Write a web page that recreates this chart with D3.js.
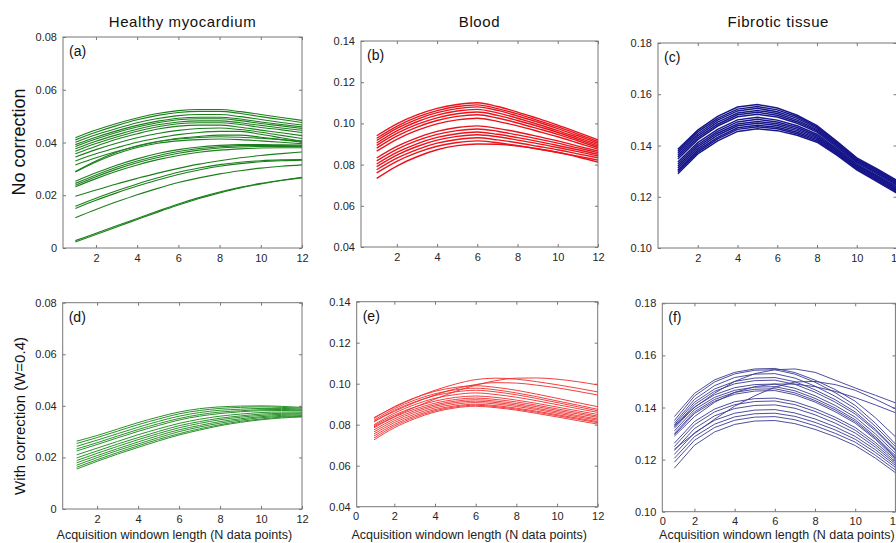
<!DOCTYPE html>
<html>
<head>
<meta charset="utf-8">
<script src="https://cdn.jsdelivr.net/npm/d3@7"></script>
<style>
  body { margin: 0; background: #fff; }
  svg { display: block; font-family: "Liberation Sans", Arial, sans-serif; }
  .tick text { fill: #262626; font-size: 11px; }
  .tick line { stroke: #777; }
</style>
</head>
<body>
<svg id="chart" width="896" height="543"></svg>
<script>
// window lengths (x values shared by every curve)
const windowLengths = [1, 2, 3, 4, 5, 6, 7, 8, 9, 10, 11, 12];

const xTicksEven = [2, 4, 6, 8, 10, 12];
const xTicksZero = [0, 2, 4, 6, 8, 10, 12];
const yTicksHealthy = [0, 0.02, 0.04, 0.06, 0.08];
const yTicksBlood = [0.04, 0.06, 0.08, 0.10, 0.12, 0.14];
const yTicksFibrotic = [0.10, 0.12, 0.14, 0.16, 0.18];

const tissueTitles = ["Healthy myocardium", "Blood", "Fibrotic tissue"];
const rowTitles = ["No correction", "With correction (W=0.4)"];
const panelLetters = ["(a)", "(b)", "(c)", "(d)", "(e)", "(f)"];
const xAxisTitle = "Acquisition windown length (N data points)";

// (a) healthy myocardium, no correction
const healthyNoCorr = [
  [.0418,.0447,.0472,.0493,.0510,.0521,.0525,.0525,.0517,.0506,.0495,.0484],
  [.0410,.0439,.0464,.0486,.0503,.0514,.0518,.0518,.0510,.0498,.0487,.0476],
  [.0401,.0429,.0453,.0475,.0491,.0502,.0506,.0506,.0498,.0487,.0476,.0466],
  [.0392,.0420,.0444,.0465,.0481,.0492,.0496,.0496,.0489,.0478,.0468,.0459],
  [.0385,.0413,.0438,.0459,.0475,.0486,.0490,.0490,.0483,.0472,.0463,.0453],
  [.0376,.0405,.0429,.0450,.0467,.0478,.0482,.0482,.0475,.0465,.0455,.0446],
  [.0367,.0396,.0421,.0443,.0460,.0471,.0475,.0475,.0468,.0457,.0448,.0438],
  [.0357,.0386,.0412,.0433,.0451,.0462,.0466,.0466,.0458,.0447,.0437,.0426],
  [.0345,.0373,.0397,.0418,.0434,.0446,.0453,.0455,.0449,.0439,.0427,.0415],
  [.0330,.0357,.0380,.0401,.0417,.0430,.0438,.0442,.0442,.0431,.0418,.0405],
  [.0315,.0342,.0366,.0386,.0403,.0416,.0423,.0428,.0428,.0420,.0411,.0401],
  [.0290,.0330,.0363,.0388,.0404,.0413,.0419,.0422,.0420,.0416,.0411,.0405],
  [.0288,.0326,.0357,.0381,.0397,.0406,.0411,.0413,.0411,.0406,.0401,.0395],
  [.0253,.0285,.0314,.0338,.0358,.0373,.0383,.0389,.0392,.0392,.0391,.0390],
  [.0245,.0277,.0306,.0330,.0350,.0366,.0377,.0384,.0388,.0389,.0388,.0387],
  [.0238,.0270,.0299,.0323,.0343,.0359,.0371,.0379,.0383,.0385,.0385,.0385],
  [.0232,.0263,.0291,.0315,.0335,.0351,.0363,.0371,.0376,.0379,.0380,.0380],
  [.0196,.0220,.0243,.0264,.0284,.0302,.0318,.0331,.0342,.0351,.0358,.0364],
  [.0158,.0189,.0217,.0243,.0266,.0287,.0303,.0316,.0325,.0331,.0334,.0335],
  [.0150,.0181,.0209,.0235,.0258,.0279,.0296,.0310,.0320,.0327,.0331,.0333],
  [.0115,.0146,.0175,.0202,.0226,.0248,.0266,.0281,.0293,.0303,.0310,.0315],
  [.0028,.0056,.0084,.0112,.0140,.0167,.0191,.0212,.0230,.0245,.0257,.0268],
  [.0023,.0051,.0080,.0108,.0136,.0163,.0188,.0209,.0228,.0243,.0256,.0266]
];

// (b) blood, no correction
const bloodNoCorr = [
  [.0940,.0998,.1041,.1073,.1092,.1100,.1082,.1055,.1024,.0992,.0956,.0920],
  [.0928,.0986,.1030,.1062,.1082,.1090,.1072,.1046,.1015,.0983,.0948,.0912],
  [.0917,.0976,.1020,.1052,.1072,.1080,.1063,.1036,.1007,.0975,.0940,.0905],
  [.0905,.0964,.1008,.1040,.1060,.1068,.1051,.1025,.0996,.0965,.0931,.0897],
  [.0893,.0951,.0995,.1027,.1047,.1055,.1039,.1014,.0986,.0956,.0923,.0890],
  [.0880,.0938,.0982,.1014,.1034,.1042,.1026,.1002,.0975,.0947,.0915,.0883],
  [.0865,.0923,.0966,.0998,.1017,.1025,.1010,.0988,.0962,.0935,.0905,.0875],
  [.0832,.0888,.0930,.0961,.0980,.0988,.0976,.0958,.0937,.0915,.0890,.0866],
  [.0818,.0874,.0916,.0947,.0965,.0973,.0962,.0944,.0925,.0904,.0881,.0858],
  [.0803,.0859,.0901,.0932,.0950,.0958,.0947,.0931,.0913,.0893,.0872,.0850],
  [.0790,.0846,.0888,.0919,.0937,.0945,.0935,.0919,.0902,.0883,.0863,.0842],
  [.0775,.0831,.0873,.0904,.0922,.0930,.0920,.0906,.0889,.0872,.0852,.0833],
  [.0760,.0816,.0858,.0889,.0907,.0915,.0906,.0892,.0876,.0859,.0841,.0822],
  [.0733,.0793,.0838,.0872,.0892,.0900,.0899,.0890,.0877,.0860,.0837,.0812]
];

// (c) fibrotic tissue, no correction
const fibroticNoCorr = [
  [.1385,.1460,.1514,.1550,.1560,.1546,.1518,.1478,.1416,.1352,.1310,.1265],
  [.1377,.1453,.1506,.1542,.1552,.1539,.1512,.1473,.1412,.1348,.1306,.1261],
  [.1370,.1445,.1499,.1535,.1545,.1532,.1506,.1468,.1407,.1344,.1302,.1257],
  [.1362,.1438,.1491,.1527,.1537,.1525,.1499,.1462,.1403,.1341,.1298,.1253],
  [.1355,.1430,.1483,.1520,.1530,.1518,.1493,.1457,.1399,.1337,.1294,.1249],
  [.1347,.1423,.1476,.1512,.1522,.1511,.1487,.1452,.1394,.1333,.1290,.1245],
  [.1335,.1411,.1463,.1500,.1510,.1499,.1477,.1444,.1387,.1327,.1284,.1239],
  [.1327,.1403,.1455,.1492,.1502,.1492,.1470,.1438,.1383,.1323,.1280,.1235],
  [.1319,.1396,.1448,.1484,.1494,.1485,.1464,.1433,.1379,.1320,.1276,.1231],
  [.1312,.1388,.1440,.1477,.1487,.1478,.1458,.1428,.1374,.1316,.1272,.1227],
  [.1304,.1381,.1432,.1469,.1479,.1471,.1452,.1423,.1370,.1312,.1268,.1223],
  [.1298,.1374,.1426,.1463,.1473,.1465,.1446,.1418,.1366,.1309,.1264,.1219],
  [.1290,.1367,.1418,.1455,.1465,.1458,.1440,.1413,.1362,.1305,.1260,.1215]
];

// (d) healthy myocardium, with correction
const healthyCorr = [
  [.0263,.0285,.0310,.0335,.0357,.0376,.0389,.0396,.0399,.0400,.0398,.0394],
  [.0254,.0277,.0302,.0327,.0349,.0369,.0382,.0390,.0394,.0396,.0394,.0391],
  [.0243,.0267,.0292,.0317,.0340,.0360,.0374,.0383,.0387,.0390,.0390,.0387],
  [.0233,.0257,.0283,.0308,.0331,.0351,.0366,.0376,.0381,.0385,.0386,.0384],
  [.0225,.0250,.0276,.0301,.0324,.0345,.0360,.0370,.0377,.0381,.0382,.0381],
  [.0210,.0236,.0262,.0288,.0311,.0332,.0348,.0360,.0368,.0374,.0376,.0376],
  [.0198,.0225,.0252,.0277,.0301,.0323,.0339,.0352,.0361,.0368,.0371,.0372],
  [.0188,.0216,.0243,.0269,.0293,.0315,.0332,.0346,.0356,.0363,.0367,.0369],
  [.0179,.0207,.0234,.0260,.0285,.0307,.0324,.0339,.0350,.0358,.0363,.0365],
  [.0170,.0199,.0227,.0252,.0277,.0300,.0318,.0333,.0345,.0354,.0359,.0362],
  [.0162,.0191,.0219,.0245,.0270,.0292,.0311,.0327,.0340,.0349,.0356,.0359],
  [.0155,.0185,.0213,.0239,.0264,.0287,.0306,.0323,.0336,.0346,.0353,.0357]
];

// (e) blood, with correction
const bloodCorr = [
  [.0835,.0885,.0930,.0968,.0998,.1020,.1027,.1022,.1010,.0995,.0978,.0960],
  [.0790,.0840,.0885,.0925,.0962,.0993,.1015,.1027,.1028,.1022,.1010,.0994],
  [.0815,.0865,.0908,.0945,.0975,.0996,.1005,.1003,.0993,.0980,.0963,.0945],
  [.0830,.0888,.0931,.0963,.0982,.0990,.0982,.0968,.0949,.0929,.0908,.0888],
  [.0822,.0878,.0920,.0951,.0970,.0978,.0970,.0955,.0937,.0916,.0896,.0875],
  [.0815,.0870,.0911,.0942,.0960,.0968,.0960,.0946,.0928,.0908,.0888,.0868],
  [.0800,.0856,.0898,.0929,.0947,.0955,.0947,.0934,.0917,.0898,.0879,.0860],
  [.0795,.0847,.0886,.0915,.0933,.0940,.0933,.0920,.0904,.0886,.0868,.0850],
  [.0785,.0837,.0876,.0905,.0923,.0930,.0923,.0911,.0895,.0877,.0860,.0842],
  [.0775,.0828,.0868,.0897,.0915,.0922,.0915,.0903,.0888,.0870,.0853,.0836],
  [.0765,.0819,.0860,.0890,.0908,.0915,.0908,.0896,.0880,.0863,.0845,.0828],
  [.0755,.0810,.0851,.0882,.0900,.0908,.0901,.0889,.0874,.0856,.0839,.0822],
  [.0745,.0801,.0843,.0874,.0892,.0900,.0893,.0881,.0866,.0849,.0832,.0815],
  [.0735,.0793,.0836,.0868,.0887,.0895,.0888,.0876,.0861,.0844,.0827,.0810],
  [.0726,.0785,.0829,.0862,.0882,.0890,.0883,.0871,.0855,.0838,.0820,.0803]
];

// (f) fibrotic tissue, with correction
const fibroticCorr = [
  [.1365,.1454,.1506,.1535,.1548,.1550,.1534,.1505,.1469,.1424,.1361,.1288],
  [.1350,.1444,.1498,.1529,.1543,.1545,.1528,.1497,.1457,.1408,.1340,.1260],
  [.1340,.1431,.1484,.1515,.1528,.1530,.1513,.1482,.1443,.1396,.1328,.1250],
  [.1333,.1420,.1471,.1500,.1513,.1515,.1499,.1468,.1430,.1383,.1317,.1240],
  [.1325,.1411,.1462,.1491,.1503,.1505,.1489,.1459,.1421,.1375,.1311,.1235],
  [.1320,.1402,.1449,.1476,.1488,.1490,.1474,.1445,.1408,.1363,.1299,.1225],
  [.1310,.1392,.1439,.1466,.1478,.1480,.1464,.1435,.1398,.1353,.1289,.1215],
  [.1300,.1383,.1431,.1458,.1470,.1472,.1456,.1427,.1391,.1346,.1283,.1210],
  [.1295,.1377,.1424,.1451,.1463,.1465,.1449,.1421,.1384,.1340,.1278,.1205],
  [.1330,.1400,.1455,.1500,.1530,.1545,.1548,.1535,.1505,.1475,.1447,.1418],
  [.1240,.1300,.1355,.1405,.1445,.1478,.1498,.1500,.1488,.1466,.1432,.1395],
  [.1290,.1365,.1420,.1458,.1480,.1490,.1490,.1480,.1462,.1438,.1410,.1380],
  [.1263,.1346,.1394,.1422,.1434,.1436,.1422,.1396,.1363,.1323,.1266,.1200],
  [.1250,.1334,.1383,.1411,.1423,.1425,.1411,.1385,.1353,.1313,.1257,.1192],
  [.1235,.1319,.1368,.1396,.1408,.1410,.1397,.1372,.1340,.1302,.1248,.1185],
  [.1220,.1303,.1351,.1378,.1390,.1392,.1379,.1356,.1326,.1289,.1238,.1178],
  [.1205,.1288,.1336,.1364,.1376,.1378,.1366,.1343,.1314,.1278,.1228,.1170],
  [.1190,.1274,.1323,.1351,.1363,.1365,.1353,.1330,.1301,.1267,.1217,.1160],
  [.1167,.1255,.1306,.1335,.1348,.1350,.1338,.1316,.1288,.1254,.1206,.1150]
];

// panel boxes in pixels: [left, right, top, bottom]
const panels = [
  { data: healthyNoCorr,  box: [63, 302, 37, 248],        xDom: [0.4, 12],  yDom: [0, 0.08],    yTicks: yTicksHealthy,  xTicks: xTicksEven, color: "#1b7f1b", lw: 1.1, smooth: true,  zeroShift: 0 },
  { data: bloodNoCorr,    box: [361, 598, 41, 247],       xDom: [0.22, 12], yDom: [0.04, 0.14], yTicks: yTicksBlood,    xTicks: xTicksEven, color: "#e8141c", lw: 1.4, smooth: true,  zeroShift: 0 },
  { data: fibroticNoCorr, box: [658, 896.5, 43, 248],     xDom: [0, 12],    yDom: [0.10, 0.18], yTicks: yTicksFibrotic, xTicks: xTicksEven, color: "#16168a", lw: 1.5, smooth: false, zeroShift: 0 },
  { data: healthyCorr,    box: [62.7, 302, 302.7, 509],   xDom: [0.32, 12], yDom: [0, 0.08],    yTicks: yTicksHealthy,  xTicks: xTicksEven, color: "#2a922a", lw: 1.0, smooth: true,  zeroShift: 0 },
  { data: bloodCorr,      box: [356.7, 597.7, 301.7, 506.7], xDom: [0.15, 12], yDom: [0.04, 0.14], yTicks: yTicksBlood, xTicks: xTicksZero, color: "#ee2a2a", lw: 0.9, smooth: true, zeroShift: 2 },
  { data: fibroticCorr,   box: [662.3, 895.4, 303.3, 511.7], xDom: [0.4, 12],  yDom: [0.10, 0.18], yTicks: yTicksFibrotic, xTicks: xTicksZero, color: "#3a3a94", lw: 0.9, smooth: false, zeroShift: 8 }
];

const svg = d3.select("#chart");
svg.append("rect").attr("width", 896).attr("height", 543).attr("fill", "#fff");

function yFmt(d) { return d === 0 ? "0" : d.toFixed(2); }

panels.forEach(function(p, i) {
  const [l, r, t, b] = p.box;
  const x = d3.scaleLinear().domain(p.xDom).range([l, r]);
  const y = d3.scaleLinear().domain(p.yDom).range([b, t]);
  const g = svg.append("g");

  // box
  g.append("rect")
    .attr("x", l).attr("y", t).attr("width", r - l).attr("height", b - t)
    .attr("fill", "none").attr("stroke", "#777").attr("stroke-width", 1);

  // inward ticks on all four sides
  const bottom = g.append("g").attr("transform", "translate(0," + b + ")")
    .call(d3.axisBottom(x).tickValues(p.xTicks).tickSizeInner(-3).tickSizeOuter(0).tickPadding(6));
  const outside = bottom.selectAll(".tick").filter(d => d < p.xDom[0]);
  outside.select("line").remove();
  outside.select("text").attr("dx", p.zeroShift);
  g.append("g").attr("transform", "translate(0," + t + ")")
    .call(d3.axisTop(x).tickValues(p.xTicks.filter(d => d >= p.xDom[0])).tickSizeInner(-3).tickSizeOuter(0).tickFormat(""));
  g.append("g").attr("transform", "translate(" + l + ",0)")
    .call(d3.axisLeft(y).tickValues(p.yTicks).tickSizeInner(-3).tickSizeOuter(0).tickPadding(6).tickFormat(yFmt));
  g.append("g").attr("transform", "translate(" + r + ",0)")
    .call(d3.axisRight(y).tickValues(p.yTicks).tickSizeInner(-3).tickSizeOuter(0).tickFormat(""));
  g.selectAll(".domain").remove();

  // curves
  const line = d3.line()
    .x((d, k) => x(windowLengths[k]))
    .y(d => y(d))
    .curve(p.smooth ? d3.curveMonotoneX : d3.curveLinear);

  g.append("g").selectAll("path")
    .data(p.data).enter()
    .append("path")
    .attr("d", line)
    .attr("fill", "none")
    .attr("stroke", p.color)
    .attr("stroke-width", p.lw);

  // panel letter
  g.append("text")
    .attr("x", l + 6).attr("y", t + 19)
    .attr("font-size", 14).attr("fill", "#111")
    .text(panelLetters[i]);

  // column titles over the top row, axis title under the bottom row
  if (i < 3) {
    g.append("text")
      .attr("x", (l + r) / 2 + (i === 2 ? 1 : 0)).attr("y", 27)
      .attr("text-anchor", "middle").attr("font-size", 15)
      .attr("letter-spacing", 0.6).attr("fill", "#111")
      .text(tissueTitles[i]);
  } else {
    g.append("text")
      .attr("x", (l + r) / 2 - 8 + (i === 5 ? 6 : 0)).attr("y", 539)
      .attr("text-anchor", "middle").attr("font-size", 12.5).attr("fill", "#222")
      .text(xAxisTitle);
  }
});

// row labels
svg.append("text")
  .attr("transform", "translate(25,142) rotate(-90)")
  .attr("text-anchor", "middle").attr("font-size", 18).attr("fill", "#111")
  .text(rowTitles[0]);
svg.append("text")
  .attr("transform", "translate(25,416) rotate(-90)")
  .attr("text-anchor", "middle").attr("font-size", 15).attr("fill", "#111")
  .text(rowTitles[1]);
</script>
</body>
</html>
